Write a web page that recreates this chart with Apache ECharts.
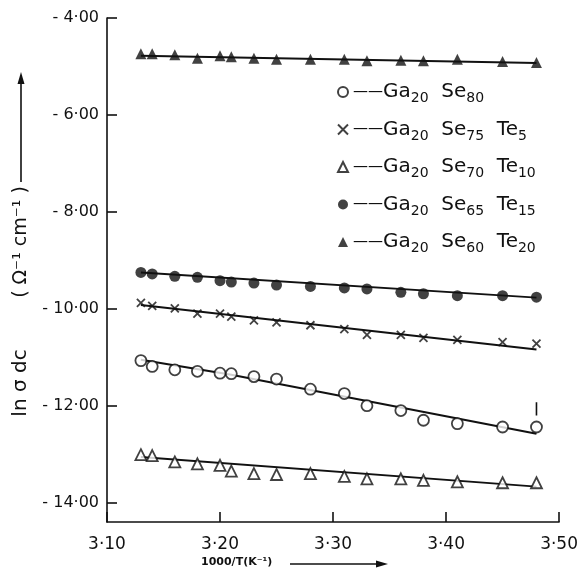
<!DOCTYPE html>
<html lang="en">
<head>
<meta charset="UTF-8">
<title>ln sigma dc vs 1000/T</title>
<script src="https://cdn.jsdelivr.net/npm/echarts@6/dist/echarts.min.js"></script>
<style>
html, body { margin: 0; padding: 0; background: #fff; }
#chart { width: 581px; height: 572px; }
</style>
</head>
<body>
<div id="chart"></div>
<script>
// 1000/T values (shared by all samples)
const xVals = [3.13, 3.14, 3.16, 3.18, 3.20, 3.21, 3.23, 3.25, 3.28, 3.31, 3.33, 3.36, 3.38, 3.41, 3.45, 3.48];

// ln sigma dc
const se80 = [-11.07, -11.19, -11.26, -11.29, -11.33, -11.34, -11.40, -11.45, -11.66, -11.75, -12.00, -12.10, -12.30, -12.37, -12.44, -12.44];
const te5 = [-9.88, -9.94, -9.99, -10.10, -10.10, -10.16, -10.24, -10.28, -10.34, -10.42, -10.54, -10.54, -10.60, -10.64, -10.69, -10.72];
const te10 = [-13.01, -13.03, -13.16, -13.20, -13.23, -13.35, -13.40, -13.42, -13.40, -13.46, -13.51, -13.51, -13.54, -13.57, -13.59, -13.59];
const te15 = [-9.25, -9.28, -9.33, -9.35, -9.42, -9.45, -9.47, -9.51, -9.54, -9.57, -9.59, -9.66, -9.69, -9.73, -9.73, -9.76];
const te20 = [-4.74, -4.74, -4.76, -4.83, -4.78, -4.80, -4.83, -4.85, -4.85, -4.85, -4.88, -4.87, -4.88, -4.85, -4.90, -4.92];

// fitted lines
const fitX = [3.13, 3.48];
const se80FitX = [3.13, 3.21, 3.48];
const se80Fit = [-11.05, -11.36, -12.58];
const te5Fit = [-9.92, -10.84];
const te10Fit = [-13.06, -13.67];
const te15Fit = [-9.25, -9.77];
const te20Fit = [-4.78, -4.93];

// small bar drawn above the last Ga20Se80 point
const se80Bar = [[3.48, -11.93], [3.48, -12.2]];

const yTicks = [-4, -6, -8, -10, -12, -14];
const names = ['Ga20Se80', 'Ga20Se75Te5', 'Ga20Se70Te10', 'Ga20Se65Te15', 'Ga20Se60Te20'];
const legendText = {
  'Ga20Se80': '{d|——}Ga{s|20}  Se{s|80}',
  'Ga20Se75Te5': '{d|——}Ga{s|20}  Se{s|75}  Te{s|5}',
  'Ga20Se70Te10': '{d|——}Ga{s|20}  Se{s|70}  Te{s|10}',
  'Ga20Se65Te15': '{d|——}Ga{s|20}  Se{s|65}  Te{s|15}',
  'Ga20Se60Te20': '{d|——}Ga{s|20}  Se{s|60}  Te{s|20}'
};

const ink = '#111';
const zip = (xs, ys) => xs.map((x, i) => [x, ys[i]]);
const dot = v => v.toFixed(2).replace('.', '·');

function points(name, vals, symbol, size, filled) {
  return {
    name: name,
    type: 'scatter',
    data: zip(xVals, vals),
    symbol: symbol,
    symbolSize: size,
    itemStyle: {
      color: filled ? ink : '#fff',
      borderColor: ink,
      borderWidth: filled ? 0 : 1.8
    },
    z: 3
  };
}

function fit(xs, ys) {
  return {
    type: 'line',
    data: zip(xs, ys),
    showSymbol: false,
    lineStyle: { color: ink, width: 2 },
    silent: true,
    z: 2
  };
}

const crossPath = 'path://M0,0L10,10M10,0L0,10';

const chart = echarts.init(document.getElementById('chart'));
chart.setOption({
  animation: false,
  textStyle: { fontFamily: 'DejaVu Sans' },
  grid: { left: 107, right: 15, top: 18, bottom: 50 },
  xAxis: {
    type: 'value',
    min: 3.1,
    max: 3.5,
    interval: 0.1,
    axisLine: { lineStyle: { color: ink, width: 1.6 } },
    axisTick: { inside: true, length: 10, lineStyle: { color: ink, width: 1.6 } },
    axisLabel: { margin: 14, fontSize: 17, color: ink, formatter: v => dot(v) },
    splitLine: { show: false }
  },
  yAxis: {
    type: 'value',
    min: -14.4,
    max: -4,
    axisLine: { show: true, lineStyle: { color: ink, width: 1.6 } },
    axisTick: { show: true, inside: true, length: 10, customValues: yTicks, lineStyle: { color: ink, width: 1.6 } },
    axisLabel: {
      margin: 8, fontSize: 16, color: ink, customValues: yTicks,
      formatter: v => '- ' + dot(Math.abs(v))
    },
    splitLine: { show: false }
  },
  legend: {
    data: names,
    orient: 'vertical',
    left: 337,
    top: 82,
    padding: 0,
    itemGap: 14,
    itemWidth: 10,
    itemHeight: 10,
    formatter: n => legendText[n],
    textStyle: {
      fontSize: 20,
      color: ink,
      rich: {
        d: { fontSize: 15, color: ink },
        s: { fontSize: 14, color: ink, padding: [13, 0, 0, 0] }
      }
    }
  },
  series: [
    points(names[0], se80, 'circle', 11, false),
    points(names[1], te5, crossPath, 8, false),
    points(names[2], te10, 'triangle', 11, false),
    points(names[3], te15, 'circle', 11, true),
    points(names[4], te20, 'triangle', 11, true),
    fit(se80FitX, se80Fit),
    fit(fitX, te5Fit),
    fit(fitX, te10Fit),
    fit(fitX, te15Fit),
    fit(fitX, te20Fit),
    { type: 'line', data: se80Bar, showSymbol: false, silent: true, lineStyle: { color: ink, width: 1.6 } }
  ],
  graphic: [
    { type: 'line', shape: { x1: 21, y1: 182, x2: 21, y2: 80 }, style: { stroke: ink, lineWidth: 1.6 } },
    { type: 'polygon', shape: { points: [[21, 72], [17.5, 84], [24.5, 84]] }, style: { fill: ink } },
    {
      type: 'text', x: 21, y: 242, rotation: Math.PI / 2,
      style: { text: '( Ω⁻¹ cm⁻¹ )', font: '19px "DejaVu Sans"', fill: ink, align: 'center', verticalAlign: 'middle' }
    },
    {
      type: 'text', x: 21, y: 383, rotation: Math.PI / 2,
      style: { text: 'ln σ dc', font: '20px "DejaVu Sans"', fill: ink, align: 'center', verticalAlign: 'middle' }
    },
    {
      type: 'text', left: 201, top: 557,
      style: { text: '1000/T(K⁻¹)', font: 'bold 11px "DejaVu Sans"', fill: ink }
    },
    { type: 'line', shape: { x1: 290, y1: 564, x2: 378, y2: 564 }, style: { stroke: ink, lineWidth: 1.6 } },
    { type: 'polygon', shape: { points: [[388, 564], [376, 560.5], [376, 567.5]] }, style: { fill: ink } }
  ]
});
</script>
</body>
</html>
